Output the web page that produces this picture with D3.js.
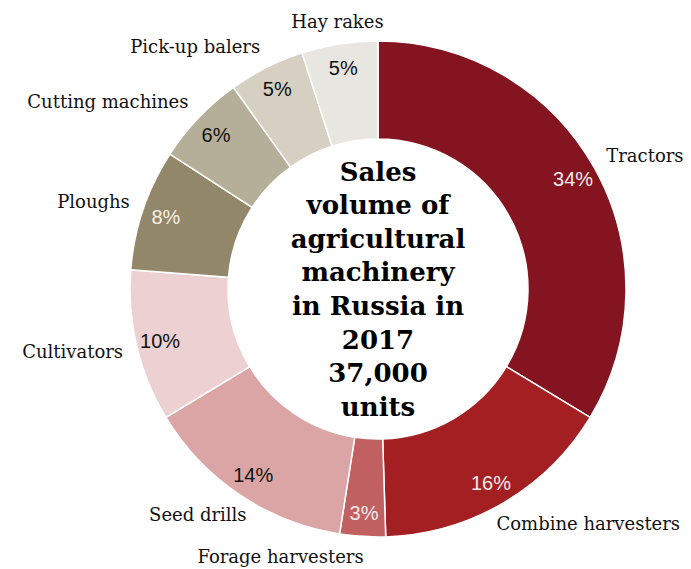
<!DOCTYPE html>
<html>
<head>
<meta charset="utf-8">
<script src="https://cdn.jsdelivr.net/npm/d3@7"></script>
<style>
  html, body { margin: 0; padding: 0; background: #fff; }
  svg { display: block; }
</style>
</head>
<body>
<svg id="chart" width="691" height="569"></svg>
<script>
// Machinery categories, clockwise from 12 o'clock
const categories = ["Tractors", "Combine harvesters", "Forage harvesters", "Seed drills",
  "Cultivators", "Ploughs", "Cutting machines", "Pick-up balers", "Hay rakes"];
// Share of sales volume, %
const shares = [34, 16, 3, 14, 10, 8, 6, 5, 5];
const colors = ["#84141f", "#a31f22", "#c06061", "#dba5a5", "#edd1d2",
  "#938769", "#b5ae98", "#d5d0c2", "#e8e6e0"];
const labelInk = ["#f6e9e9", "#f6e9e9", "#f6e9e9", "#111", "#111", "#f6efe6", "#111", "#111", "#111"];
const titleLines = ["Sales", "volume of", "agricultural", "machinery", "in Russia in", "2017", "37,000", "units"];

const width = 691, height = 569;
const cx = 378, cy = 289;
const outerR = 248, innerR = 150;

const svg = d3.select("#chart");
const g = svg.append("g").attr("transform", `translate(${cx},${cy})`);

const data = categories.map((c, i) => ({ name: c, value: shares[i], color: colors[i], ink: labelInk[i] }));

const pie = d3.pie().value(d => d.value).sort(null);
const arcs = pie(data);

const arc = d3.arc().innerRadius(innerR).outerRadius(outerR);
const pctArc = d3.arc().innerRadius(224).outerRadius(224);

g.selectAll("path.slice")
  .data(arcs)
  .join("path")
  .attr("class", "slice")
  .attr("d", arc)
  .attr("fill", d => d.data.color)
  .attr("stroke", "#fff")
  .attr("stroke-width", 1.5);

// Percentage labels inside the ring
g.selectAll("text.pct")
  .data(arcs)
  .join("text")
  .attr("class", "pct")
  .attr("transform", d => `translate(${pctArc.centroid(d)})`)
  .attr("text-anchor", "middle")
  .attr("dy", "0.36em")
  .attr("font-family", "'Liberation Sans', Arial, sans-serif")
  .attr("font-size", 20)
  .attr("fill", d => d.data.ink)
  .text(d => d.data.value + "%");

// Category names outside the ring; lower labels are tucked in a little
const labelR = 262, catSize = 18;
const maxBaseline = height - cy - 6;
g.selectAll("text.cat")
  .data(arcs)
  .join("text")
  .attr("class", "cat")
  .each(function (d) {
    const a = (d.startAngle + d.endAngle) / 2;
    const s = Math.sin(a), c = Math.cos(a);
    const squeeze = c < -0.5 ? 1 + 0.12 * c : 1;
    const x = labelR * s * squeeze;
    const dy = c < 0 ? 0.35 - 0.55 * c : 0.35 - 0.5 * c;
    const y = Math.min(-labelR * c + dy * catSize, maxBaseline);
    let anchor;
    if (c > 0.9 && Math.abs(s) < 0.2) anchor = "middle";
    else anchor = s > 0 ? "start" : "end";
    d3.select(this)
      .attr("x", x)
      .attr("y", y)
      .attr("text-anchor", anchor);
  })
  .attr("font-family", "'DejaVu Serif', Georgia, serif")
  .attr("font-size", catSize)
  .attr("fill", "#111")
  .text(d => d.data.name);

// Centre title
const lineH = 33.6;
const title = g.append("text")
  .attr("text-anchor", "middle")
  .attr("font-family", "'DejaVu Serif', Georgia, serif")
  .attr("font-weight", "bold")
  .attr("font-size", 26)
  .attr("fill", "#000");
titleLines.forEach((t, i) => {
  title.append("tspan")
    .attr("x", 0)
    .attr("y", (i - (titleLines.length - 1) / 2) * lineH)
    .attr("dy", "0.35em")
    .text(t);
});
</script>
</body>
</html>
